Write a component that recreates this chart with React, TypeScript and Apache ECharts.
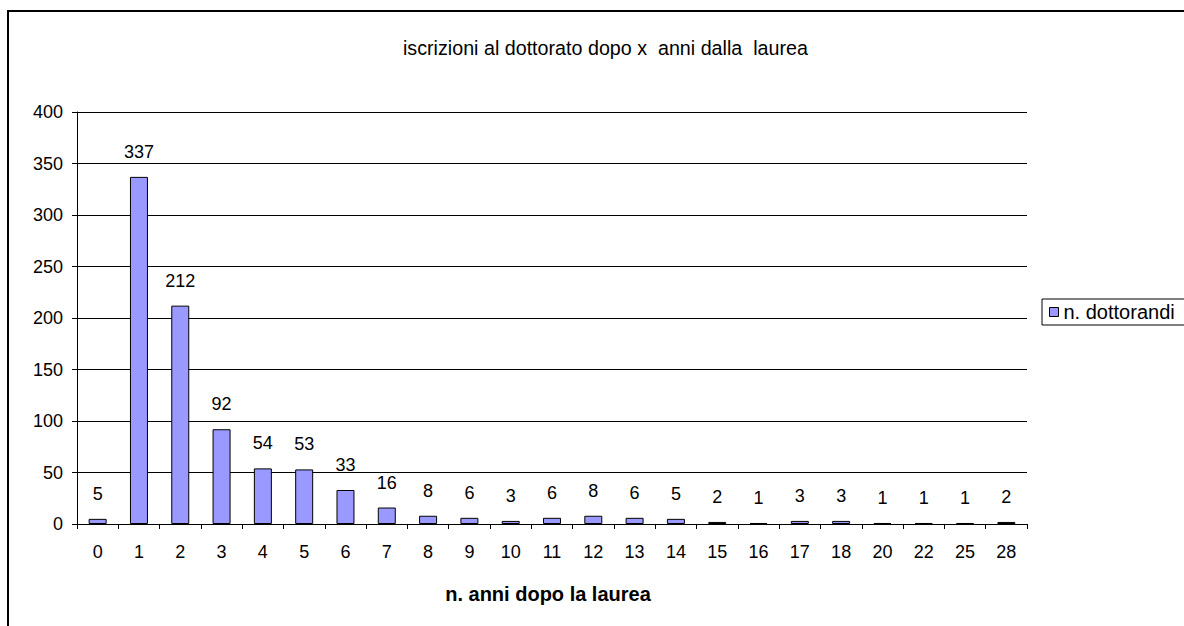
import React, { useEffect, useRef } from "react";
import * as echarts from "echarts";

const categories = ["0", "1", "2", "3", "4", "5", "6", "7", "8", "9", "10", "11", "12", "13", "14", "15", "16", "17", "18", "20", "22", "25", "28"];
const values = [5, 337, 212, 92, 54, 53, 33, 16, 8, 6, 3, 6, 8, 6, 5, 2, 1, 3, 3, 1, 1, 1, 2];
const yTicks = { min: 0, max: 400, interval: 50 };
const titleText = "iscrizioni al dottorato dopo x  anni dalla  laurea";
const xAxisName = "n. anni dopo la laurea";
const seriesName = "n. dottorandi";

const FONT = "'Liberation Sans', Arial, sans-serif";

export default function App() {
  const ref = useRef<HTMLDivElement>(null);
  useEffect(() => {
    if (!ref.current) return;
    const chart = echarts.init(ref.current, null, { renderer: "svg" });
    chart.setOption({
      animation: false,
      backgroundColor: "#ffffff",
      textStyle: { fontFamily: FONT },
      title: {
        text: titleText,
        left: 398,
        top: 33,
        textStyle: { fontSize: 19.7, fontWeight: "normal", color: "#000", fontFamily: FONT },
      },
      graphic: [
        {
          type: "rect",
          shape: { x: 8, y: 11, width: 1300, height: 800 },
          style: { fill: "none", stroke: "#000", lineWidth: 2 },
          silent: true,
        },
      ],
      legend: {
        left: 1042,
        top: 299,
        orient: "vertical",
        data: [{ name: seriesName, icon: "rect" }],
        borderColor: "#000",
        borderWidth: 1,
        padding: [3, 20, 3, 7],
        itemWidth: 9,
        itemHeight: 9,
        textStyle: { fontSize: 20, color: "#000", fontFamily: FONT },
        itemStyle: { borderColor: "#000", borderWidth: 1 },
      },
      grid: { left: 77, right: 157, top: 112, bottom: 102, containLabel: false },
      xAxis: {
        type: "category",
        data: categories,
        name: xAxisName,
        nameLocation: "middle",
        nameGap: 60,
        nameTextStyle: { fontSize: 20, fontWeight: "bold", color: "#000", fontFamily: FONT, padding: [0, 8, 0, 0] },
        axisLine: { lineStyle: { color: "#000", width: 1 } },
        axisTick: { show: true, length: 5, lineStyle: { color: "#000" } },
        axisLabel: { fontSize: 18, color: "#000", margin: 19, fontFamily: FONT, interval: 0 },
      },
      yAxis: {
        type: "value",
        min: yTicks.min,
        max: yTicks.max,
        interval: yTicks.interval,
        axisLine: { show: true, lineStyle: { color: "#000", width: 1 } },
        axisTick: { show: true, length: 5, lineStyle: { color: "#000" } },
        axisLabel: { fontSize: 18, color: "#000", margin: 14, fontFamily: FONT },
        splitLine: { show: true, lineStyle: { color: "#000", width: 1 } },
      },
      series: [
        {
          name: seriesName,
          type: "bar",
          data: values,
          barWidth: 18,
          itemStyle: { color: "#9999FF", borderColor: "#000", borderWidth: 1 },
          label: {
            show: true,
            position: "top",
            distance: 16,
            fontSize: 18,
            color: "#000",
            fontFamily: FONT,
          },
        },
      ],
    });
    return () => chart.dispose();
  }, []);
  return (
    <div
      ref={ref}
      style={{ position: "absolute", left: 0, top: 0, width: 1184, height: 626 }}
    />
  );
}
